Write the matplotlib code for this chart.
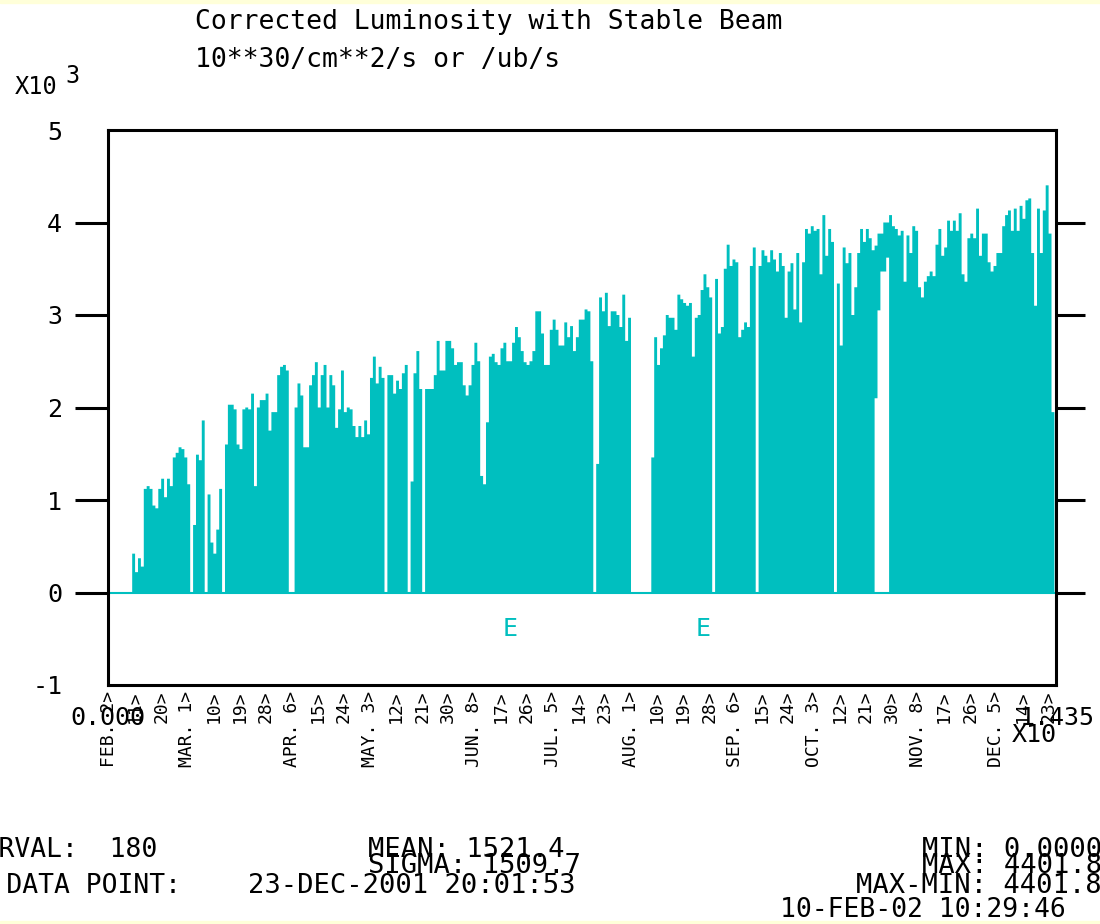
import numpy as np
import matplotlib.pyplot as plt
from matplotlib.patches import Rectangle

# daily peak of the corrected luminosity from 2-FEB-2001, in 10**3 x 10**30/cm**2/s
lumi_max = [
    0, 0, 0, 0, 0, 0, 0, 0,
    0.42, 0.22, 0.37, 0.28, 1.12, 1.15, 1.12, 0.94,
    0.91, 1.12, 1.23, 1.03, 1.23, 1.15, 1.46, 1.51,
    1.57, 1.55, 1.46, 1.17, 0, 0.73, 1.49, 1.43,
    1.86, 0, 1.06, 0.54, 0.42, 0.68, 1.12, 0,
    1.60, 2.03, 2.03, 1.98, 1.60, 1.55, 1.98, 2.00,
    1.98, 2.15, 1.15, 2.00, 2.08, 2.08, 2.15, 1.75,
    1.95, 1.95, 2.35, 2.44, 2.46, 2.40, 0, 0,
    2.00, 2.26, 2.13, 1.57, 1.57, 2.24, 2.35, 2.49,
    2.00, 2.35, 2.46, 2.00, 2.35, 2.24, 1.78, 1.98,
    2.40, 1.95, 2.00, 1.98, 1.80, 1.68, 1.80, 1.68,
    1.86, 1.71, 2.32, 2.55, 2.26, 2.44, 2.32, 0,
    2.35, 2.35, 2.15, 2.29, 2.20, 2.37, 2.46, 0,
    1.20, 2.37, 2.61, 2.20, 0, 2.20, 2.20, 2.20,
    2.35, 2.72, 2.40, 2.40, 2.72, 2.72, 2.64, 2.46,
    2.49, 2.49, 2.24, 2.13, 2.24, 2.46, 2.70, 2.50,
    1.26, 1.17, 1.84, 2.55, 2.58, 2.49, 2.46, 2.64,
    2.70, 2.50, 2.50, 2.70, 2.87, 2.76, 2.61, 2.49,
    2.46, 2.50, 2.61, 3.04, 3.04, 2.80, 2.46, 2.46,
    2.84, 2.95, 2.84, 2.67, 2.67, 2.92, 2.76, 2.88,
    2.61, 2.76, 2.95, 2.95, 3.06, 3.04, 2.50, 0,
    1.39, 3.19, 3.04, 3.24, 2.88, 3.04, 3.04, 3.00,
    2.87, 3.22, 2.72, 2.97, 0, 0, 0, 0,
    0, 0, 0, 1.46, 2.76, 2.46, 2.64, 2.78,
    3.00, 2.97, 2.97, 2.84, 3.22, 3.17, 3.13, 3.10,
    3.13, 2.55, 2.97, 3.00, 3.27, 3.44, 3.30, 3.19,
    0, 3.39, 2.80, 2.87, 3.50, 3.76, 3.53, 3.60,
    3.57, 2.76, 2.84, 2.92, 2.87, 3.53, 3.73, 0,
    3.53, 3.70, 3.64, 3.57, 3.70, 3.60, 3.47, 3.67,
    3.53, 2.97, 3.47, 3.56, 3.06, 3.67, 2.92, 3.57,
    3.93, 3.88, 3.96, 3.91, 3.93, 3.44, 4.08, 3.64,
    3.93, 3.79, 0, 3.34, 2.67, 3.73, 3.56, 3.67,
    3.00, 3.30, 3.67, 3.93, 3.79, 3.93, 3.83, 3.70,
    3.75, 3.88, 3.88, 4.00, 4.00, 4.08, 3.96, 3.93,
    3.86, 3.91, 3.36, 3.86, 3.67, 3.96, 3.91, 3.30,
    3.19, 3.36, 3.42, 3.47, 3.42, 3.76, 3.93, 3.64,
    3.73, 4.02, 3.91, 4.02, 3.91, 4.10, 3.44, 3.36,
    3.83, 3.88, 3.83, 4.15, 3.64, 3.88, 3.88, 3.57,
    3.47, 3.53, 3.67, 3.67, 3.96, 4.08, 4.13, 3.91,
    4.15, 3.91, 4.18, 4.04, 4.24, 4.26, 3.67, 3.10,
    4.15, 3.67, 4.13, 4.4018, 3.88, 1.95,
]

# days on which the beam never dropped: lower end of the column
lumi_min_days = [264, 265, 266, 267, 268]
lumi_min_vals = [2.10, 3.05, 3.47, 3.47, 3.62]

# date labels, one every 9 days
tick_days = ["2", "11", "20", "1", "10", "19", "28", "6", "15", "24", "3", "12",
             "21", "30", "8", "17", "26", "5", "14", "23", "1", "10", "19", "28",
             "6", "15", "24", "3", "12", "21", "30", "8", "17", "26", "5", "14", "23"]
month_ticks = [0, 3, 7, 10, 14, 17, 20, 24, 27, 31, 34]
month_names = ["FEB", "MAR", "APR", "MAY", "JUN", "JUL", "AUG", "SEP", "OCT", "NOV", "DEC"]

y_ticks = [-1, 0, 1, 2, 3, 4, 5]

# error flags shown under the axis
error_days = [138.3, 204.8]

stats_left = ["INTERVAL:  180", "LAST DATA POINT:"]
stats_mid = ["MEAN: 1521.4", "SIGMA: 1509.7"]
last_point = "23-DEC-2001 20:01:53"
stats_right = ["MIN: 0.0000", "MAX: 4401.8", "MAX-MIN: 4401.8"]
printed_at = "10-FEB-02 10:29:46"

TEAL = '#00bfbf'
MONO = 'DejaVu Sans Mono'
W, H = 1100, 924

plt.rcParams['font.family'] = MONO

fig = plt.figure(figsize=(W / 100, H / 100), dpi=100)
fig.patch.set_facecolor('white')


def px(x, y):
    return x / W, 1 - y / H


# thin yellow strips at the top and bottom of the sheet
fig.patches.append(Rectangle((0, 1 - 3 / H), 1, 3 / H, transform=fig.transFigure,
                             color='#ffffd9', zorder=0))
fig.patches.append(Rectangle((0, 0), 1, 3 / H, transform=fig.transFigure,
                             color='#ffffd9', zorder=0))

ax = fig.add_axes([108 / W, 1 - 685 / H, 948 / W, 555 / H])

n = len(lumi_max)
edges = np.arange(n + 1)
low = np.zeros(n)
low[lumi_min_days] = lumi_min_vals
ax.stairs(lumi_max, edges, baseline=low, fill=True, color=TEAL, lw=0, zorder=2)
ax.axhline(0, color=TEAL, lw=1.5, zorder=1)

ax.set_xlim(-0.34, 326.55)
ax.set_ylim(-1, 5)

for s in ax.spines.values():
    s.set_linewidth(2.2)

ax.set_yticks(y_ticks)
ax.set_yticklabels([str(v) for v in y_ticks], fontsize=18)
ax.tick_params(axis='y', which='major', direction='out', length=24, width=2.2,
               pad=9, right=True)
for t in ax.yaxis.get_major_ticks():
    if t.get_loc() in (-1, 5):
        t.tick1line.set_visible(False)
        t.tick2line.set_visible(False)
    t.tick2line.set_markersize(21)

labels = [d + ">" for d in tick_days]
for i, m in zip(month_ticks, month_names):
    labels[i] = f"{m}.{tick_days[i]:>2}>"
ax.set_xticks(np.arange(len(tick_days)) * 9)
ax.set_xticklabels(labels, rotation=90, fontsize=13, va='top')
ax.tick_params(axis='x', length=0, pad=4)

for d in error_days:
    ax.text(d, -0.4, "E", color=TEAL, fontsize=18, ha='center', va='center')

# titles and axis multipliers
fig.text(*px(195, 22), "Corrected Luminosity with Stable Beam", fontsize=19, va='center')
fig.text(*px(195, 60), "10**30/cm**2/s or /ub/s", fontsize=19, va='center')
fig.text(*px(15, 87), "X10", fontsize=17, va='center')
fig.text(*px(65, 76), "3", fontsize=17, va='center')
fig.text(*px(70, 718), "0.000", fontsize=18, va='center')
fig.text(*px(1095, 718), "1.435", fontsize=18, va='center', ha='right')
fig.text(*px(1012, 735), "X10", fontsize=18, va='center')

# statistics block
fig.text(*px(157, 850), stats_left[0], fontsize=19, va='center', ha='right')
fig.text(*px(181, 886), stats_left[1], fontsize=19, va='center', ha='right')
fig.text(*px(368, 850), stats_mid[0], fontsize=19.5, va='center')
fig.text(*px(368, 866), stats_mid[1], fontsize=19.5, va='center')
fig.text(*px(248, 886), last_point, fontsize=19.5, va='center')
fig.text(*px(1102, 850), stats_right[0], fontsize=19.5, va='center', ha='right')
fig.text(*px(1102, 866), stats_right[1], fontsize=19.5, va='center', ha='right')
fig.text(*px(1102, 886), stats_right[2], fontsize=19.5, va='center', ha='right')
fig.text(*px(780, 910), printed_at, fontsize=19, va='center')

fig.savefig('out.png', dpi=100)
